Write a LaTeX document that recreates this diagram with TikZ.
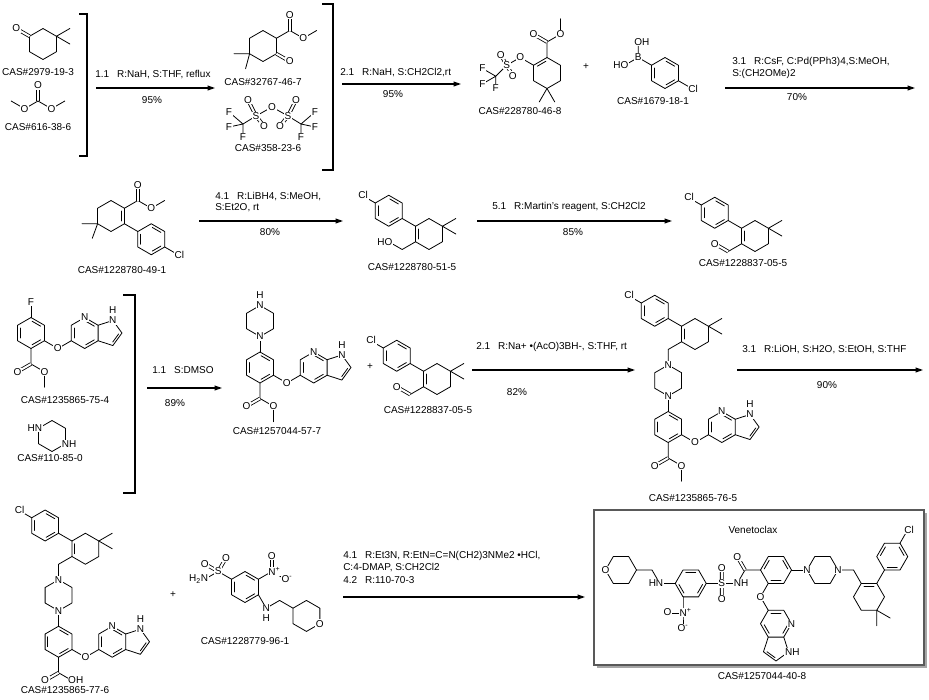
\documentclass[tikz,border=0pt]{standalone}
\usepackage{fontspec}
\setmainfont{Liberation Sans}
\usetikzlibrary{calc,arrows.meta}
\newcommand\afont{\fontsize{7.5}{9}\selectfont}
\def\L{11.625pt}
\newcommand\hexr[3]{%
  \coordinate (#1c) at (#2);
  \foreach \k in {1,...,6}{\path (#2) ++({#3+60*(\k-1)}:\L) coordinate (#1\k);}
  \draw[bond] (#11)--(#12)--(#13)--(#14)--(#15)--(#16)--cycle;}
\newcommand\idb[3]{\draw[bond] ($0.2*(#1)+0.72*(#2)+0.08*(#3)$) -- ($0.2*(#1)+0.08*(#2)+0.72*(#3)$);}
\newcommand\pent[4]{%
  \coordinate (#1c) at ($(#2)!0.5!(#3)+(#4:8pt)$);
  \path (#1c) ++({#4+72}:9.89pt) coordinate (#11);
  \path (#1c) ++(#4:9.89pt) coordinate (#12);
  \path (#1c) ++({#4-72}:9.89pt) coordinate (#13);
  \draw[bond] (#2)--(#11)--(#12)--(#13)--(#3);
  \idb{#1c}{#12}{#13}}
\newcommand\azaind[2]{%
  \path (#2) ++(30:\L) coordinate (#1p0) ++(30:\L) coordinate (#1pc);
  \hexr{#1p}{#1pc}{30}
  \draw[bond] (#2) -- (#1p4);
  \pent{#1q}{#1p1}{#1p6}{0}
  \idb{#1pc}{#1p1}{#1p2}\idb{#1pc}{#1p3}{#1p4}\idb{#1pc}{#1p5}{#1p6}
  \node[atm] at (#1p2) {N};
  \node[atm] at (#1q1) {N};
  \node[atm] at ([yshift=7.5pt]#1q1) {H};}
\newcommand\aryl[2]{%
  \hexr{#1b}{#2}{30}
  \idb{#1bc}{#1b1}{#1b2}\idb{#1bc}{#1b3}{#1b4}\idb{#1bc}{#1b5}{#1b6}
  \path (#1b6) ++(330:\L) coordinate (#1o);
  \draw[bond] (#1b6)--(#1o);
  \azaind{#1}{#1o}
  \node[atm] at (#1o) {O};}
\newcommand\core[2]{%
  \path (#2) ++(270:\L) coordinate (#1zc0);
  \hexr{#1z}{#1zc0}{30}
  \path (#1z5) ++(270:\L) ++(270:\L) coordinate (#1bc0);
  \aryl{#1}{#1bc0}
  \draw[bond] (#1z5)--(#1b2);
  \node[atm] at (#1z2) {N}; \node[atm] at (#1z5) {N};}
\newcommand\clcyc[2]{%
  \hexr{#1h}{#2}{30}
  \idb{#1hc}{#1h3}{#1h4}
  \draw[bond] (#1h1) -- ++(30:\L) (#1h1) -- ++(330:\L);
  \path (#1h3) ++(150:\L) coordinate (#1i) ++(150:\L) coordinate (#1ac0);
  \draw[bond] (#1h3) -- (#1i);
  \hexr{#1a}{#1ac0}{30}
  \idb{#1ac}{#1a1}{#1a2}\idb{#1ac}{#1a3}{#1a4}\idb{#1ac}{#1a5}{#1a6}
  \path (#1a3) ++(150:\L) coordinate (#1cl);
  \draw[bond] (#1a3) -- (#1cl);
  \node[atm, anchor=west, xshift=-3.3pt] at (#1cl) {Cl};}
\begin{document}
\begin{tikzpicture}[x=0.75pt,y=-0.75pt,
  bond/.style={line width=0.6pt, line cap=round, line join=round},
  dbl/.style={line width=0.6pt, double, double distance=1.5pt},
  atm/.style={fill=white, inner sep=0.5pt, font=\afont},
  txt/.style={inner sep=0pt, font=\afont},
  rxn/.style={line width=0.8pt, -{Triangle[length=5.5pt,width=3.6pt]}},
  brk/.style={line width=0.9pt}]
\useasboundingbox (0,0) rectangle (929,700);
\fill[white] (0,0) rectangle (929,700);

% ---------- Row 1 ----------
% A: 3,3-dimethylcyclohexanone
\hexr{Ar}{43,44}{30}
\path (Ar3) ++(150:\L) coordinate (Ao);
\draw[dbl] (Ar3) -- (Ao);
\draw[bond] (Ar1) -- ++(30:\L) (Ar1) -- ++(330:\L);
\node[atm] (nAo) at (Ao) {O};
\node[txt] (lA) at (38,72) {CAS\#2979-19-3};
% B: dimethyl carbonate
\coordinate (Bc) at (38,101);
\path (Bc) ++(90:\L) coordinate (Bo);
\path (Bc) ++(210:\L) coordinate (Bo1) ++(150:\L) coordinate (Bm1);
\path (Bc) ++(330:\L) coordinate (Bo2) ++(30:\L) coordinate (Bm2);
\draw[dbl] (Bc)--(Bo);
\draw[bond] (Bm1)--(Bo1)--(Bc)--(Bo2)--(Bm2);
\node[atm] at (Bo) {O}; \node[atm] at (Bo1) {O}; \node[atm] at (Bo2) {O};
\node[txt] (lB) at (38,127) {CAS\#616-38-6};
\draw[brk] (79,14) -- (87,14) -- (87,156) -- (79,156);
% arrow 1
\coordinate (a1s) at (96,88); \coordinate (a1e) at (215,88);
\draw[rxn] (a1s) -- (a1e);
\node[txt, anchor=west] (t1) at (95,75) {1.1\hspace{6pt}R:NaH, S:THF, reflux};
\node[txt] (y1) at (152,100) {95\%};
% C: keto ester
\hexr{Cr}{263,46}{30}
\path (Cr1) ++(30:\L) coordinate (Ce) ++(90:\L) coordinate (Co1);
\path (Ce) ++(330:\L) coordinate (Co2) ++(30:\L) coordinate (Cm);
\path (Cr6) ++(330:\L) coordinate (Ck);
\draw[bond] (Cr1)--(Ce)--(Co2)--(Cm);
\draw[dbl] (Ce)--(Co1);
\draw[dbl] (Cr6)--(Ck);
\draw[bond] (Cr4) -- ++(180:\L) (Cr4) -- ++(255:\L);
\node[atm] at (Co1) {O}; \node[atm] at (Co2) {O}; \node[atm] at (Ck) {O};
\node[txt] (lC) at (263,82) {CAS\#32767-46-7};
% Tf2O
\coordinate (Tsl) at (256,116); \coordinate (Tsr) at (288,116);
\coordinate (Tob) at (272,107);
\coordinate (Tol) at (248,100); \coordinate (Tor) at (296,100);
\coordinate (Tobl) at (264,126); \coordinate (Tobr) at (280,126);
\coordinate (Tcl) at (243,124); \coordinate (Tcr) at (301,124);
\coordinate (Tf1) at (229,112); \coordinate (Tf2) at (229,127); \coordinate (Tf3) at (243,137);
\coordinate (Tf4) at (315,112); \coordinate (Tf5) at (315,127); \coordinate (Tf6) at (301,137);
\draw[bond] (Tsl)--(Tob)--(Tsr) (Tsl)--(Tcl) (Tsr)--(Tcr) (Tcl)--(Tf1) (Tcl)--(Tf2) (Tcl)--(Tf3)
  (Tcr)--(Tf4) (Tcr)--(Tf5) (Tcr)--(Tf6);
\draw[dbl] (Tsl)--(Tol) (Tsl)--(Tobl) (Tsr)--(Tor) (Tsr)--(Tobr);
\foreach \p in {Tob,Tol,Tor,Tobl,Tobr}{\node[atm] at (\p) {O};}
\foreach \p in {Tsl,Tsr}{\node[atm] at (\p) {S};}
\foreach \p in {Tf1,Tf2,Tf3,Tf4,Tf5,Tf6}{\node[atm] at (\p) {F};}
\node[txt] (lT) at (268,148) {CAS\#358-23-6};
\draw[brk] (322,4) -- (333,4) -- (333,170) -- (322,170);
% arrow 2
\coordinate (a2s) at (342,84); \coordinate (a2e) at (461,84);
\draw[rxn] (a2s) -- (a2e);
\node[txt, anchor=west] (t2) at (340,73) {2.1\hspace{6pt}R:NaH, S:CH2Cl2,rt};
\node[txt] (y2) at (393,94) {95\%};
% D: enol triflate
\hexr{Dr}{547,73}{30}
\idb{Drc}{Dr2}{Dr3}
\path (Dr2) ++(90:\L) coordinate (De) ++(150:\L) coordinate (Do1);
\path (De) ++(30:\L) coordinate (Do2) ++(90:\L) coordinate (Dm);
\draw[bond] (Dr2)--(De)--(Do2)--(Dm);
\draw[dbl] (De)--(Do1);
\path (Dr3) ++(150:\L) coordinate (Do3) ++(210:\L) coordinate (Ds);
\path (Ds) ++(120:9pt) coordinate (Dso1);
\path (Ds) ++(300:9pt) coordinate (Dso2);
\path (Ds) ++(225:\L) coordinate (Dcf);
\path (Dcf) ++(150:\L) coordinate (Df1);
\path (Dcf) ++(210:\L) coordinate (Df2);
\path (Dcf) ++(270:9pt) coordinate (Df3);
\draw[bond] (Dr3)--(Do3)--(Ds)--(Dcf) (Dcf)--(Df1) (Dcf)--(Df2) (Dcf)--(Df3);
\draw[dbl] (Ds)--(Dso1) (Ds)--(Dso2);
\draw[bond] (Dr5) -- ++(240:\L) (Dr5) -- ++(300:\L);
\foreach \p in {Do1,Do2,Do3,Dso1,Dso2}{\node[atm] at (\p) {O};}
\node[atm] at (Ds) {S};
\foreach \p in {Df1,Df2,Df3}{\node[atm] at (\p) {F};}
\node[txt] (lD) at (520,111) {CAS\#228780-46-8};
\node[txt] (plus1) at (586,67) {+};
% E: boronic acid
\hexr{Er}{665,73}{30}
\idb{Erc}{Er1}{Er2}\idb{Erc}{Er3}{Er4}\idb{Erc}{Er5}{Er6}
\path (Er3) ++(150:\L) coordinate (Eb);
\path (Eb) ++(90:\L) coordinate (Eo1);
\path (Eb) ++(210:\L) coordinate (Eo2);
\path (Er6) ++(330:\L) coordinate (Ecl);
\draw[bond] (Er3)--(Eb) (Eo1)--(Eb)--(Eo2) (Er6)--(Ecl);
\node[atm] at (Eb) {B};
\node[atm, anchor=west, xshift=-3.5pt] at (Eo1) {OH};
\node[atm, anchor=east, xshift=3.5pt] at (Eo2) {HO};
\node[atm, anchor=west, xshift=-3.3pt] at (Ecl) {Cl};
\node[txt] (lE) at (653,101) {CAS\#1679-18-1};
% arrow 3
\coordinate (a3s) at (725,88); \coordinate (a3e) at (915,88);
\draw[rxn] (a3s) -- (a3e);
\node[txt, anchor=west] (t3) at (732,62) {3.1\hspace{6pt}R:CsF, C:Pd(PPh3)4,S:MeOH,};
\node[txt, anchor=west] (t3b) at (732,74) {S:(CH2OMe)2};
\node[txt] (y3) at (797,97) {70\%};

% ---------- Row 2 ----------
% F
\hexr{Fr}{111,216}{30}
\idb{Frc}{Fr1}{Fr6}
\path (Fr1) ++(30:\L) coordinate (Fe) ++(90:\L) coordinate (Fo1);
\path (Fe) ++(330:\L) coordinate (Fo2) ++(30:\L) coordinate (Fm);
\draw[bond] (Fr1)--(Fe)--(Fo2)--(Fm);
\draw[dbl] (Fe)--(Fo1);
\draw[bond] (Fr4) -- ++(180:\L) (Fr4) -- ++(250:\L);
\path (Fr6) ++(330:\L) coordinate (Fi) ++(330:\L) coordinate (Fpc0);
\draw[bond] (Fr6)--(Fi);
\hexr{Fp}{Fpc0}{30}
\idb{Fpc}{Fp1}{Fp2}\idb{Fpc}{Fp3}{Fp4}\idb{Fpc}{Fp5}{Fp6}
\path (Fp6) ++(330:\L) coordinate (Fcl);
\draw[bond] (Fp6)--(Fcl);
\node[atm] at (Fo1) {O}; \node[atm] at (Fo2) {O};
\node[atm, anchor=west, xshift=-3.3pt] at (Fcl) {Cl};
\node[txt] (lF) at (122,270) {CAS\#1228780-49-1};
% arrow 4
\coordinate (a4s) at (199,221); \coordinate (a4e) at (343,221);
\draw[rxn] (a4s) -- (a4e);
\node[txt, anchor=west] (t4) at (215,197) {4.1\hspace{6pt}R:LiBH4, S:MeOH,};
\node[txt, anchor=west] (t4b) at (215,208) {S:Et2O, rt};
\node[txt] (y4) at (270,232) {80\%};
% G
\clcyc{G}{429,234}
\path (Gh4) ++(210:\L) coordinate (Gch) ++(150:\L) coordinate (Goh);
\draw[bond] (Gh4)--(Gch)--(Goh);
\node[atm, anchor=east, xshift=3.5pt] at (Goh) {HO};
\node[txt] (lG) at (412,267) {CAS\#1228780-51-5};
% arrow 5
\coordinate (a5s) at (477,221); \coordinate (a5e) at (672,221);
\draw[rxn] (a5s) -- (a5e);
\node[txt, anchor=west] (t5) at (492,207) {5.1\hspace{6pt}R:Martin's reagent, S:CH2Cl2};
\node[txt] (y5) at (573,232) {85\%};
% H
\clcyc{H}{755,236}
\path (Hh4) ++(210:\L) coordinate (Hcho) ++(150:\L) coordinate (Ho);
\draw[bond] (Hh4)--(Hcho);
\draw[dbl] (Hcho)--(Ho);
\node[atm] at (Ho) {O};
\node[txt] (lH) at (743,263) {CAS\#1228837-05-5};

% ---------- Row 3 ----------
% I
\aryl{I}{31,333}
\path (Ib2) ++(90:\L) coordinate (If);
\draw[bond] (Ib2)--(If);
\node[atm] at (If) {F};
\path (Ib5) ++(270:\L) coordinate (Ie);
\path (Ie) ++(210:\L) coordinate (Io1);
\path (Ie) ++(330:\L) coordinate (Io2) ++(270:\L) coordinate (Im);
\draw[bond] (Ib5)--(Ie)--(Io2)--(Im);
\draw[dbl] (Ie)--(Io1);
\node[atm] at (Io1) {O}; \node[atm] at (Io2) {O};
\node[txt] (lI) at (65,400) {CAS\#1235865-75-4};
% piperazine
\hexr{Pz}{52,436}{30}
\node[atm, anchor=east, xshift=3.3pt] at (Pz3) {HN};
\node[atm, anchor=west, xshift=-3.3pt] at (Pz6) {NH};
\node[txt] (lP) at (50,458) {CAS\#110-85-0};
\draw[brk] (123,295) -- (135,295) -- (135,493) -- (123,493);
% arrow 6
\coordinate (a6s) at (147,388); \coordinate (a6e) at (222,388);
\draw[rxn] (a6s) -- (a6e);
\node[txt, anchor=west] (t6) at (152,370) {1.1\hspace{6pt}S:DMSO};
\node[txt] (y6) at (175,403) {89\%};
% J
\core{J}{260,305.5}
\node[atm] at ([yshift=7.5pt]Jz2) {H};
\path (Jb5) ++(270:\L) coordinate (Je);
\path (Je) ++(210:\L) coordinate (Jo1);
\path (Je) ++(330:\L) coordinate (Jo2) ++(270:\L) coordinate (Jm);
\draw[bond] (Jb5)--(Je)--(Jo2)--(Jm);
\draw[dbl] (Je)--(Jo1);
\node[atm] at (Jo1) {O}; \node[atm] at (Jo2) {O};
\node[txt] (lJ) at (277,431) {CAS\#1257044-57-7};
\node[txt] (plus2) at (370,367) {+};
% K
\clcyc{K}{437,379}
\path (Kh4) ++(210:\L) coordinate (Kcho) ++(150:\L) coordinate (Ko);
\draw[bond] (Kh4)--(Kcho);
\draw[dbl] (Kcho)--(Ko);
\node[atm] at (Ko) {O};
\node[txt] (lK) at (428,410) {CAS\#1228837-05-5};
% arrow 7
\coordinate (a7s) at (472,370); \coordinate (a7e) at (635,370);
\draw[rxn] (a7s) -- (a7e);
\node[txt, anchor=west] (t7) at (476,347) {2.1\hspace{6pt}R:Na+ \textbullet(AcO)3BH-, S:THF, rt};
\node[txt] (y7) at (517,392) {82\%};
% L
\clcyc{L}{695,334}
\path (Lh4) ++(210:\L) coordinate (Lch) ++(270:\L) coordinate (Ln1);
\draw[bond] (Lh4)--(Lch)--(Ln1);
\core{L}{Ln1}
\path (Lb5) ++(270:\L) coordinate (Le);
\path (Le) ++(210:\L) coordinate (Lo1);
\path (Le) ++(330:\L) coordinate (Lo2) ++(270:\L) coordinate (Lm);
\draw[bond] (Lb5)--(Le)--(Lo2)--(Lm);
\draw[dbl] (Le)--(Lo1);
\node[atm] at (Lo1) {O}; \node[atm] at (Lo2) {O};
\node[txt] (lL) at (693,498) {CAS\#1235865-76-5};
% arrow 8
\coordinate (a8s) at (737,370); \coordinate (a8e) at (923,370);
\draw[rxn] (a8s) -- (a8e);
\node[txt, anchor=west] (t8) at (742,350) {3.1\hspace{6pt}R:LiOH, S:H2O, S:EtOH, S:THF};
\node[txt] (y8) at (827,385) {90\%};

% ---------- Row 4 ----------
% M
\clcyc{M}{85.4,548.75}
\path (Mh4) ++(210:\L) coordinate (Mch) ++(270:\L) coordinate (Mn1);
\draw[bond] (Mh4)--(Mch)--(Mn1);
\core{M}{Mn1}
\path (Mb5) ++(270:\L) coordinate (Me);
\path (Me) ++(210:\L) coordinate (Mo1);
\path (Me) ++(330:\L) coordinate (Mo2);
\draw[bond] (Mb5)--(Me)--(Mo2);
\draw[dbl] (Me)--(Mo1);
\node[atm] at (Mo1) {O};
\node[atm, anchor=west, xshift=-3.5pt] at (Mo2) {OH};
\node[txt] (lM) at (65,690) {CAS\#1235865-77-6};
\node[txt] (plus3) at (173,595) {+};
% N: sulfonamide
\hexr{Nr}{245,587}{30}
\idb{Nrc}{Nr1}{Nr2}\idb{Nrc}{Nr3}{Nr4}\idb{Nrc}{Nr5}{Nr6}
\path (Nr3) ++(150:\L) coordinate (Ns);
\path (Ns) ++(150:\L) coordinate (Nso1);
\path (Ns) ++(60:\L) coordinate (Nso2);
\path (Ns) ++(210:\L) coordinate (Nsn);
\draw[bond] (Nr3)--(Ns)--(Nsn);
\draw[dbl] (Ns)--(Nso1) (Ns)--(Nso2);
\path (Nr1) ++(30:\L) coordinate (Nn);
\path (Nn) ++(90:\L) coordinate (Nno1);
\path (Nn) ++(330:\L) coordinate (Nno2);
\draw[bond] (Nr1)--(Nn)--(Nno2);
\draw[dbl] (Nn)--(Nno1);
\path (Nr6) ++(300:\L) coordinate (Nnh) ++(30:\L) coordinate (Nch) ++(330:\L) coordinate (Ntr) ++(330:\L) coordinate (Ntc0);
\draw[bond] (Nr6)--(Nnh)--(Nch)--(Ntr);
\hexr{Nt}{Ntc0}{30}
\node[atm] at (Ns) {S};
\node[atm] at (Nso1) {O}; \node[atm] at (Nso2) {O};
\node[atm, anchor=east, xshift=3.3pt] at (Nsn) {H\textsubscript{2}N};
\node[atm, anchor=west, xshift=-3.3pt] at (Nn) {N\textsuperscript{+}};
\node[atm] at (Nno1) {O};
\node[atm, anchor=west, xshift=-3.5pt] at (Nno2) {O\textsuperscript{-}};
\node[atm] at (Nnh) {N};
\node[atm] at ([yshift=-7.5pt]Nnh) {H};
\node[atm] at (Nt6) {O};
\node[txt] (lN) at (245,641) {CAS\#1228779-96-1};
% arrow 9
\coordinate (a9s) at (343,597); \coordinate (a9e) at (585,597);
\draw[rxn] (a9s) -- (a9e);
\node[txt, anchor=west] (t9) at (343,556) {4.1\hspace{6pt}R:Et3N, R:EtN=C=N(CH2)3NMe2 \textbullet HCl,};
\node[txt, anchor=west] (t9b) at (343,568) {C:4-DMAP, S:CH2Cl2};
\node[txt, anchor=west] (t9c) at (343,580) {4.2\hspace{6pt}R:110-70-3};

% ---------- Venetoclax box ----------
\fill[black!35] (597,513) rectangle (927,668);
\draw[fill=white, draw=black!65, line width=1pt] (594,510) rectangle (924,665);
\node[txt] (vname) at (753,530) {Venetoclax};
\hexr{Vb}{776,570}{0}
\idb{Vbc}{Vb1}{Vb2}\idb{Vbc}{Vb3}{Vb4}\idb{Vbc}{Vb5}{Vb6}
\path (Vb4) ++(180:\L) coordinate (Vco) ++(240:\L) coordinate (Vnh) ++(180:\L) coordinate (Vs) ++(180:\L) coordinate (Var);
\path (Vco) ++(120:\L) coordinate (Vo1);
\path (Vs) ++(90:\L) coordinate (Vso1);
\path (Vs) ++(270:\L) coordinate (Vso2);
\path (Var) ++(180:\L) coordinate (Vac0);
\draw[bond] (Vb4)--(Vco)--(Vnh)--(Vs)--(Var);
\draw[dbl] (Vco)--(Vo1) (Vs)--(Vso1) (Vs)--(Vso2);
\hexr{Va}{Vac0}{0}
\idb{Vac}{Va2}{Va3}\idb{Vac}{Va4}{Va5}\idb{Vac}{Va6}{Va1}
\path (Va4) ++(180:\L) coordinate (Vn) ++(120:\L) coordinate (Vch) ++(180:\L) coordinate (Vtr) ++(180:\L) coordinate (Vtc0);
\draw[bond] (Va4)--(Vn)--(Vch)--(Vtr);
\hexr{Vt}{Vtc0}{0}
\path (Va5) ++(270:\L) coordinate (Vnn);
\path (Vnn) ++(180:\L) coordinate (Vno1);
\path (Vnn) ++(270:\L) coordinate (Vno2);
\draw[bond] (Va5)--(Vnn)--(Vno2);
\draw[dbl] (Vnn)--(Vno1);
\path (Vb5) ++(240:\L) coordinate (Vo) ++(300:\L) coordinate (Vc5) ++(300:\L) coordinate (Vpc0);
\draw[bond] (Vb5)--(Vo)--(Vc5);
\hexr{Vp}{Vpc0}{0}
\idb{Vpc}{Vp6}{Vp1}\idb{Vpc}{Vp2}{Vp3}\idb{Vpc}{Vp4}{Vp5}
\pent{Vq}{Vp6}{Vp5}{270}
\path (Vb1) ++(0:\L) coordinate (Vpn) ++(0:\L) coordinate (Vzc0);
\draw[bond] (Vb1)--(Vpn);
\hexr{Vz}{Vzc0}{0}
\path (Vz1) ++(0:\L) coordinate (Vch2) ++(300:\L) coordinate (Vcx) ++(300:\L) coordinate (Vcc0);
\draw[bond] (Vz1)--(Vch2)--(Vcx);
\hexr{Vc}{Vcc0}{0}
\idb{Vcc}{Vc2}{Vc3}
\draw[bond] (Vc6) -- ++(330:\L) (Vc6) -- ++(270:\L);
\path (Vc2) ++(60:\L) coordinate (Vi) ++(60:\L) coordinate (Vhc0);
\draw[bond] (Vc2)--(Vi);
\hexr{Vh}{Vhc0}{0}
\idb{Vhc}{Vh1}{Vh2}\idb{Vhc}{Vh3}{Vh4}\idb{Vhc}{Vh5}{Vh6}
\path (Vh2) ++(60:\L) coordinate (Vcl);
\draw[bond] (Vh2)--(Vcl);
% Venetoclax labels
\node[atm] at (Vt4) {O};
\node[atm, anchor=east, xshift=3.3pt] at (Vn) {HN};
\node[atm, anchor=west, xshift=-3.3pt] at (Vnn) {N\textsuperscript{+}};
\node[atm] at (Vno1) {O};
\node[atm] at (Vno2) {O\textsuperscript{-}};
\node[atm] at (Vs) {S};
\node[atm] at (Vso1) {O}; \node[atm] at (Vso2) {O};
\node[atm, anchor=west, xshift=-3.3pt] at (Vnh) {NH};
\node[atm] at (Vo1) {O};
\node[atm] at (Vo) {O};
\node[atm] at (Vp1) {N};
\node[atm, anchor=west, xshift=-3.3pt] at (Vq1) {NH};
\node[atm] at (Vpn) {N}; \node[atm] at (Vz1) {N};
\node[atm, anchor=west, xshift=-3.3pt] at (Vcl) {Cl};
\node[txt] (lV) at (762,676) {CAS\#1257044-40-8};
\end{tikzpicture}
\end{document}
